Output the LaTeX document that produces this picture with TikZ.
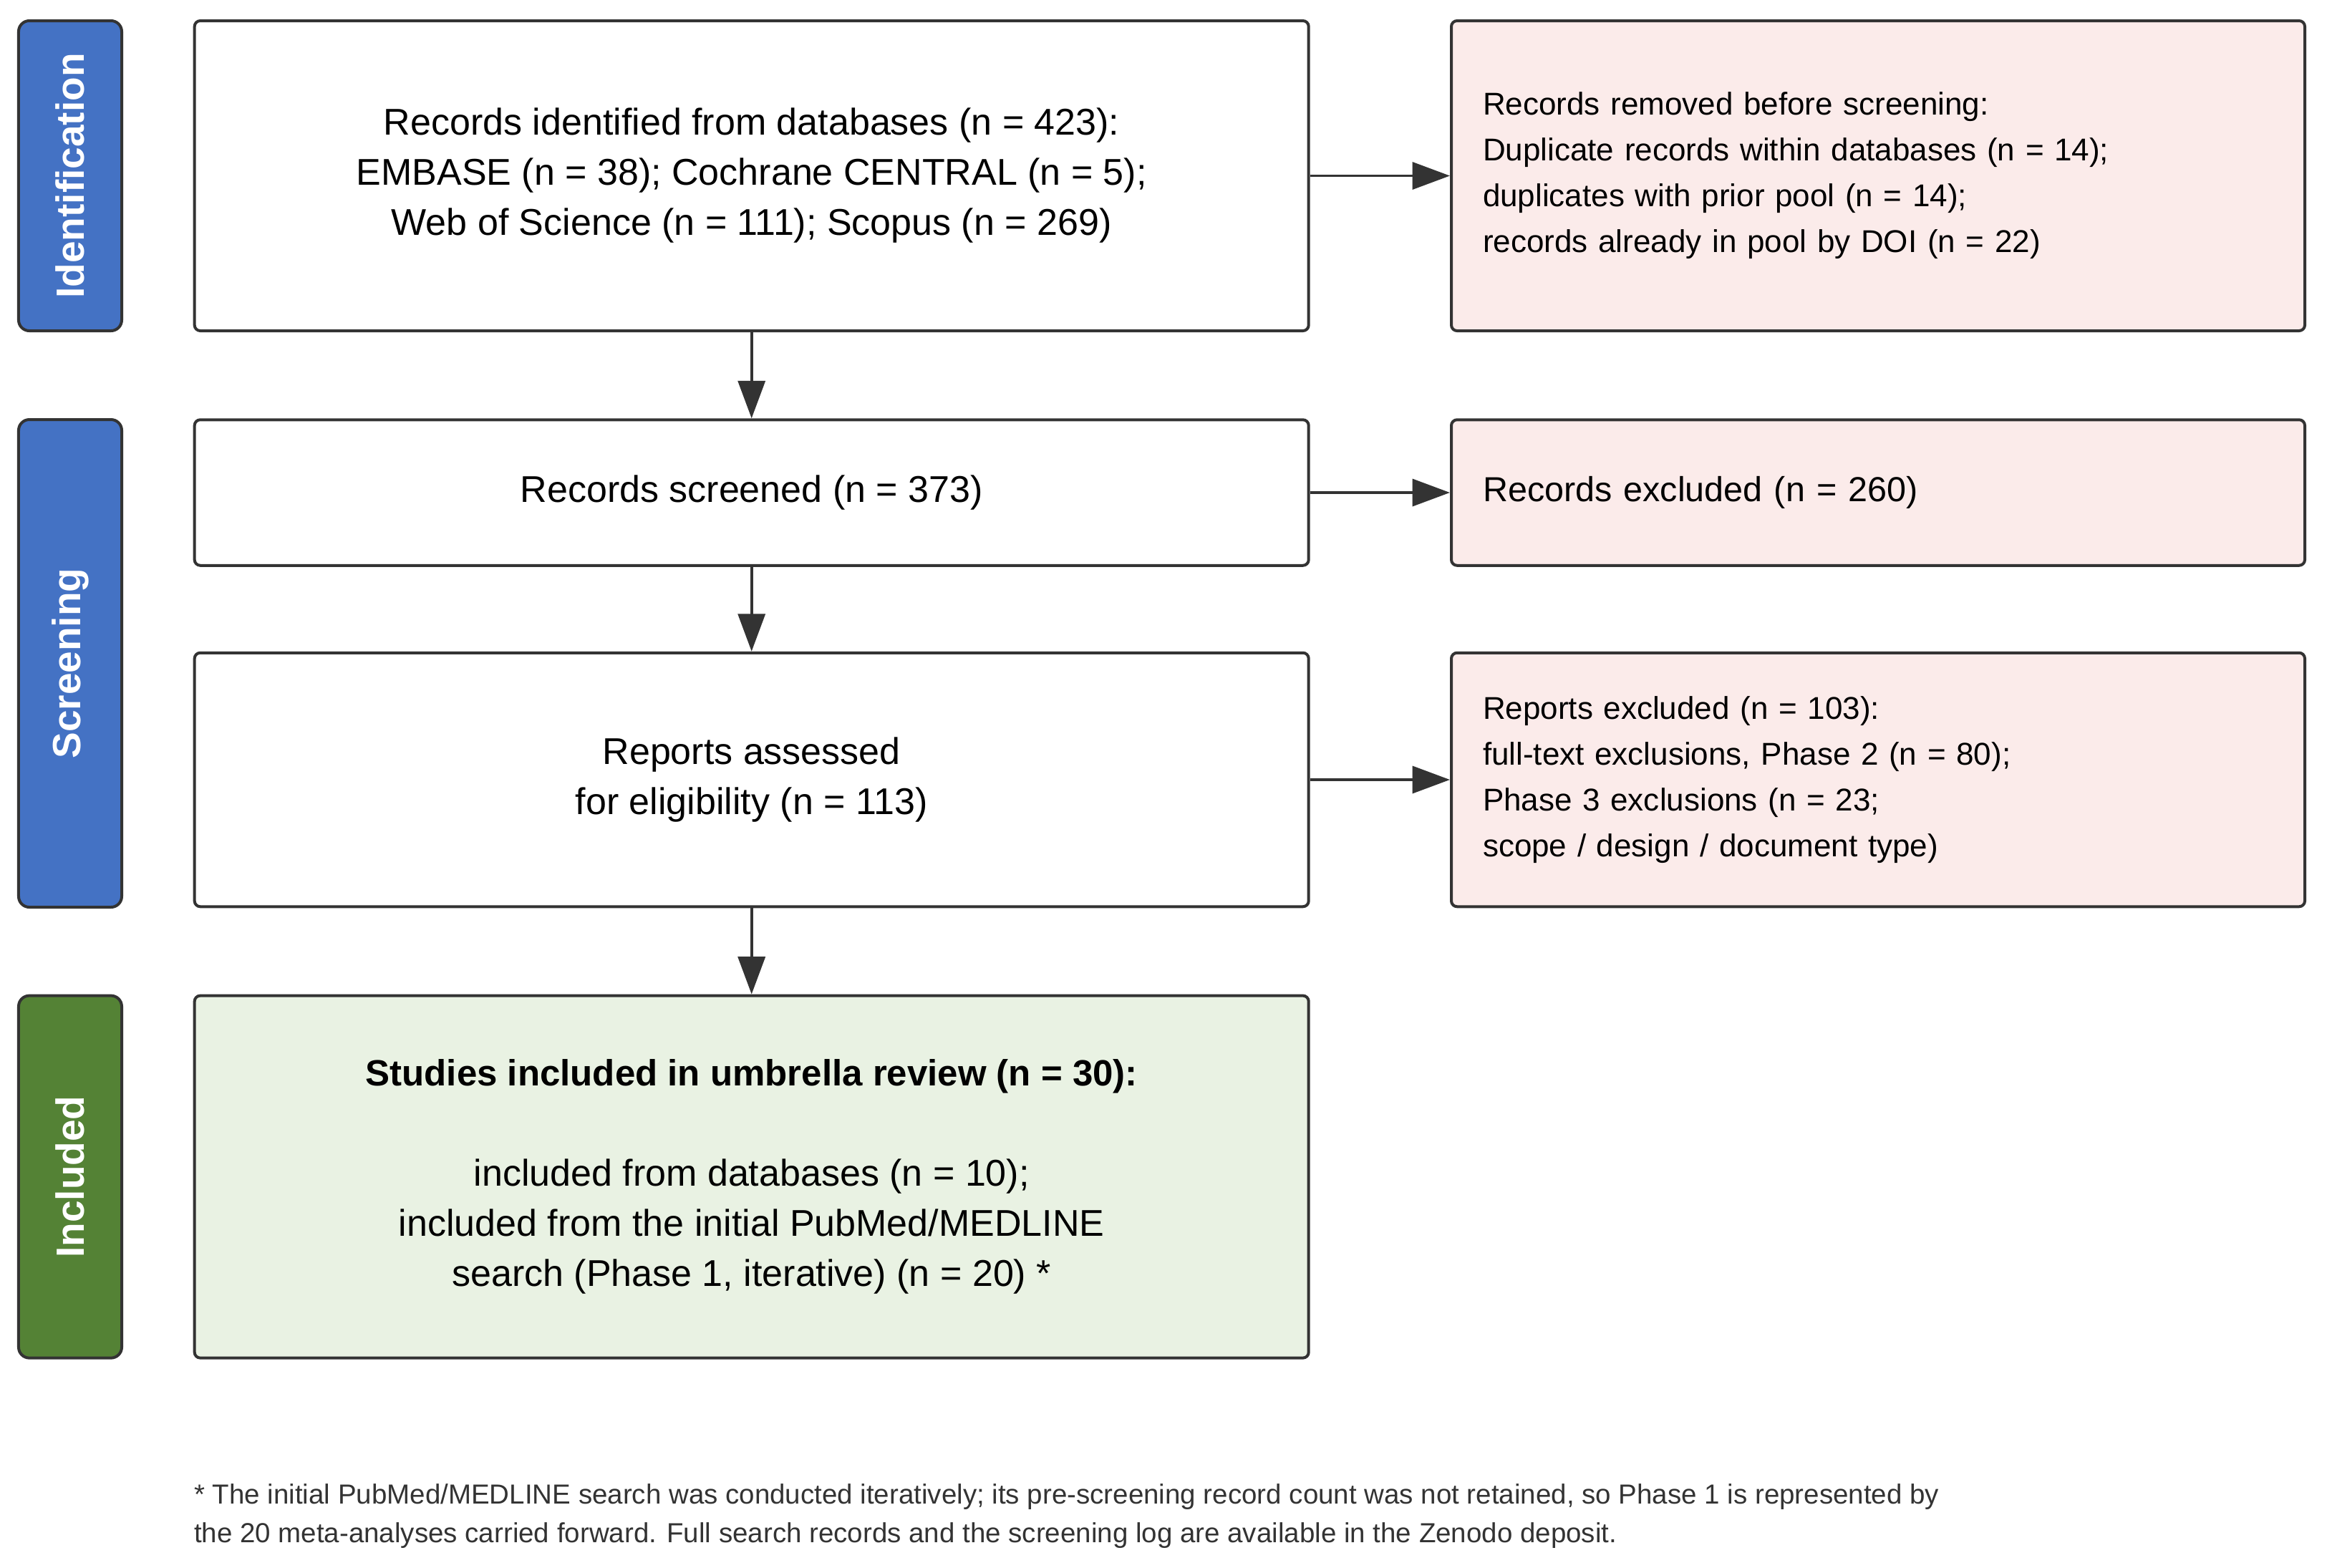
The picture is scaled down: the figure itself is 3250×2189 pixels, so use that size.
\documentclass[tikz,border=0pt]{standalone}
\usepackage{fontspec}
\setmainfont{Liberation Sans}
\usetikzlibrary{arrows.meta}
\definecolor{barblue}{HTML}{4472C4}
\definecolor{bargreen}{HTML}{548235}
\definecolor{exclpink}{HTML}{FBEBEA}
\definecolor{inclgreen}{HTML}{E9F2E3}
\definecolor{edgegray}{HTML}{333333}

\begin{document}
\begin{tikzpicture}[x=0.2pt,y=-0.2pt,line width=0.8pt,
stagebar/.style={rectangle,rounded corners=3pt,draw=edgegray,fill=barblue,text=white,inner sep=0pt,minimum height=28.8pt,font=\fontsize{11pt}{13pt}\selectfont\bfseries},
  	  mainbox/.style={rectangle,rounded corners=1.6pt,draw=edgegray,fill=white,minimum width=311.2pt,align=center,font=\fontsize{10.4pt}{14pt}\selectfont},
      exclbox/.style={rectangle,rounded corners=1.6pt,draw=edgegray,fill=exclpink,text width=220.8pt,inner xsep=8.8pt,align=left,font=\fontsize{8.8pt}{12.8pt}\selectfont},
      incl/.style={fill=inclgreen},
      flow/.style={draw=edgegray,line width=0.75pt,-{Triangle[length=10.5pt,width=7.6pt]}}]
  	  \useasboundingbox (0,0) rectangle (3250,2189);
  	  \path

(98,245.5) node [stagebar,rotate=90,minimum width=86.6pt] (idbar) {Identification}
(98,926.5) node [stagebar,rotate=90,minimum width=136.2pt] (scrbar) {Screening}
(98,1643.6) node [stagebar,rotate=90,minimum width=101.2pt,fill=bargreen] (inbar) {Included}

(1049.7,245.5) node [mainbox,minimum height=86.6pt] (ident) {Records identified from databases (n = 423):\\EMBASE (n = 38); Cochrane CENTRAL (n = 5);\\Web of Science (n = 111); Scopus (n = 269)}
(1049.7,688) node [mainbox,minimum height=40.7pt] (screen) {Records screened (n = 373)}
(1049.7,1089) node [mainbox,minimum height=70.9pt] (assess) {Reports assessed\\for eligibility (n = 113)}
(1049.7,1643.6) node [mainbox,incl,minimum height=101.2pt] (studies) {{\fontsize{10.2pt}{14pt}\selectfont\bfseries Studies included in umbrella review (n = 30):}\\[14pt]included from databases (n = 10);\\included from the initial PubMed/MEDLINE\\search (Phase 1, iterative) (n = 20) *}

(2623,245.5) node [exclbox,minimum height=86.6pt] (removed) {Records removed before screening:\\Duplicate records within databases (n = 14);\\duplicates with prior pool (n = 14);\\records already in pool by DOI (n = 22)}
(2623,688) node [exclbox,minimum height=40.7pt,font=\fontsize{9.7pt}{13pt}\selectfont] (scrout) {Records excluded (n = 260)}
(2623,1089) node [exclbox,minimum height=70.9pt] (repout) {Reports excluded (n = 103):\\full-text exclusions, Phase 2 (n = 80);\\Phase 3 exclusions (n = 23;\\scope / design / document type)}

(269,2118) node [anchor=west,inner sep=0pt,align=left,text=edgegray,font=\fontsize{7.7pt}{10.8pt}\selectfont] (note) {* The initial PubMed/MEDLINE search was conducted iteratively; its pre-screening record count was not retained, so Phase 1 is represented by\\the 20 meta-analyses carried forward. Full search records and the screening log are available in the Zenodo deposit.}
  	  ;
  	  \draw[flow] (ident) -- (screen);
  	  \draw[flow] (screen) -- (assess);
  	  \draw[flow] (assess) -- (studies);
      \draw[flow] (ident) -- (removed);
      \draw[flow] (screen) -- (scrout);
      \draw[flow] (assess) -- (repout);
	\end{tikzpicture}
\end{document}
